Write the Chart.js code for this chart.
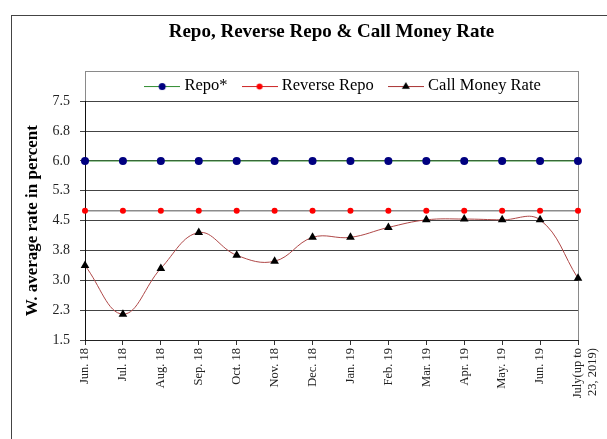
<!DOCTYPE html>
<html>
<head>
<meta charset="utf-8">
<script src="https://cdn.jsdelivr.net/npm/chart.js@4/dist/chart.umd.min.js"></script>
<style>
  html, body { margin: 0; padding: 0; background: #fff; }
  #wrap { width: 607px; height: 439px; }
</style>
</head>
<body>
<div id="wrap"><canvas id="rates"></canvas></div>
<script>
const months = ['Jun. 18', 'Jul. 18', 'Aug. 18', 'Sep. 18', 'Oct. 18', 'Nov. 18', 'Dec. 18',
    'Jan. 19', 'Feb. 19', 'Mar. 19', 'Apr. 19', 'May. 19', 'Jun. 19', ['July(up to', '23, 2019)']]
const repo = [6.0, 6.0, 6.0, 6.0, 6.0, 6.0, 6.0, 6.0, 6.0, 6.0, 6.0, 6.0, 6.0, 6.0]
const reverseRepo = [4.75, 4.75, 4.75, 4.75, 4.75, 4.75, 4.75, 4.75, 4.75, 4.75, 4.75, 4.75, 4.75, 4.75]
const callMoney = [3.37, 2.15, 3.30, 4.20, 3.63, 3.48, 4.08, 4.08, 4.33, 4.52, 4.54, 4.52, 4.52, 3.05]
const yTicks = [1.5, 2.25, 3.0, 3.75, 4.5, 5.25, 6.0, 6.75, 7.5]

const serif = "'Liberation Serif', 'DejaVu Serif', serif"

// little "line + marker" picture for the legend
function legendSample(lineColor, markerColor, shape, r){
    let c = document.createElement('canvas')
    c.width = 36
    c.height = 12
    let g = c.getContext('2d')
    g.strokeStyle = lineColor
    g.lineWidth = 1
    g.beginPath()
    g.moveTo(0, 6.5)
    g.lineTo(36, 6.5)
    g.stroke()
    g.fillStyle = markerColor
    g.beginPath()
    if (shape === 'triangle') {
        g.moveTo(18, 6 - r)
        g.lineTo(18 + r, 6 + r * 0.7)
        g.lineTo(18 - r, 6 + r * 0.7)
        g.closePath()
    } else {
        g.arc(18, 6.5, r, 0, Math.PI * 2)
    }
    g.fill()
    return c
}

const samples = [
    legendSample('#2e8b2e', '#000080', 'circle', 3.5),
    legendSample('#cc2222', '#ff0000', 'circle', 3),
    legendSample('#a83232', '#000000', 'triangle', 4)
]

const framePlugin = {
    id: 'frame',
    afterLayout(chart){
        // nudge the legend a bit right and down, as in the original
        chart.legend.left += 13
        chart.legend.right += 13
        chart.legend.top += 3
        chart.legend.bottom += 3
    },
    beforeDraw(chart){
        const ctx = chart.ctx
        const a = chart.chartArea
        ctx.save()
        ctx.fillStyle = '#fff'
        ctx.fillRect(0, 0, chart.width, chart.height)
        ctx.strokeStyle = '#444'
        ctx.lineWidth = 1
        ctx.strokeRect(11.5, 15.5, 700, 500)
        ctx.strokeStyle = '#8a8a8a'
        ctx.strokeRect(Math.round(a.left) + 0.5, Math.round(a.top) - 30 + 0.5,
            Math.round(a.right - a.left), Math.round(a.bottom - a.top) + 30)
        ctx.restore()
    }
}

const data = {
    labels: months,
    datasets: [{
        label: 'Repo*',
        data: repo,
        borderColor: '#2e8b2e',
        borderWidth: 1,
        pointStyle: 'circle',
        pointRadius: 4,
        pointBackgroundColor: '#000080',
        pointBorderColor: '#000080',
        pointBorderWidth: 0,
        tension: 0
    }, {
        label: 'Reverse Repo',
        data: reverseRepo,
        borderColor: '#8c8c8c',
        borderWidth: 1.5,
        pointStyle: 'circle',
        pointRadius: 3,
        pointBackgroundColor: '#ff0000',
        pointBorderColor: '#ff0000',
        pointBorderWidth: 0,
        tension: 0
    }, {
        label: 'Call Money Rate',
        data: callMoney,
        borderColor: '#b04848',
        borderWidth: 1,
        pointStyle: 'triangle',
        pointRadius: 5,
        pointBackgroundColor: '#000',
        pointBorderColor: '#000',
        pointBorderWidth: 0,
        tension: 0.4
    }]
}

const config = {
    type: 'line',
    data: data,
    plugins: [framePlugin],
    options: {
        responsive: true,
        maintainAspectRatio: false,
        animation: false,
        layout: { padding: { left: 15, right: 29, top: 0, bottom: 0 } },
        plugins: {
            title: {
                display: true,
                text: 'Repo, Reverse Repo & Call Money Rate',
                color: '#000',
                fullSize: false,
                font: { family: serif, size: 19, weight: 'bold' },
                padding: { top: 21, bottom: 13 }
            },
            legend: {
                display: true,
                position: 'top',
                fullSize: false,
                labels: {
                    color: '#000',
                    font: { family: serif, size: 16.5 },
                    usePointStyle: true,
                    pointStyleWidth: 28,
                    boxHeight: 12,
                    padding: 18,
                    generateLabels(chart){
                        return chart.data.datasets.map((ds, i) => ({
                            text: ds.label,
                            pointStyle: samples[i],
                            fillStyle: 'transparent',
                            strokeStyle: 'transparent',
                            lineWidth: 0,
                            fontColor: '#000',
                            datasetIndex: i,
                            hidden: false
                        }))
                    }
                }
            },
            tooltip: { enabled: false }
        },
        scales: {
            x: {
                offset: false,
                afterFit(scale){
                    scale.height = 99
                    scale.paddingLeft = 0
                    scale.paddingRight = 0
                },
                grid: { display: true, drawOnChartArea: false, tickLength: 5, color: '#333' },
                border: { color: '#222' },
                ticks: {
                    autoSkip: false,
                    minRotation: 90,
                    maxRotation: 90,
                    padding: 3,
                    color: '#222',
                    font: { family: serif, size: 12.5 }
                }
            },
            y: {
                min: 1.5,
                max: 7.5,
                afterFit(scale){ scale.width = 70 },
                afterBuildTicks(scale){ scale.ticks = yTicks.map(v => ({ value: v })) },
                grid: { color: '#444', tickLength: 5 },
                border: { color: '#111' },
                ticks: {
                    padding: 10,
                    color: '#222',
                    font: { family: serif, size: 14 },
                    callback: v => v.toFixed(1)
                },
                title: {
                    display: true,
                    text: 'W. average rate in percent',
                    color: '#000',
                    font: { family: serif, size: 17, weight: 'bold' },
                    padding: { top: 7, bottom: 0 }
                }
            }
        }
    }
}

new Chart(document.getElementById('rates').getContext('2d'), config)
</script>
</body>
</html>
